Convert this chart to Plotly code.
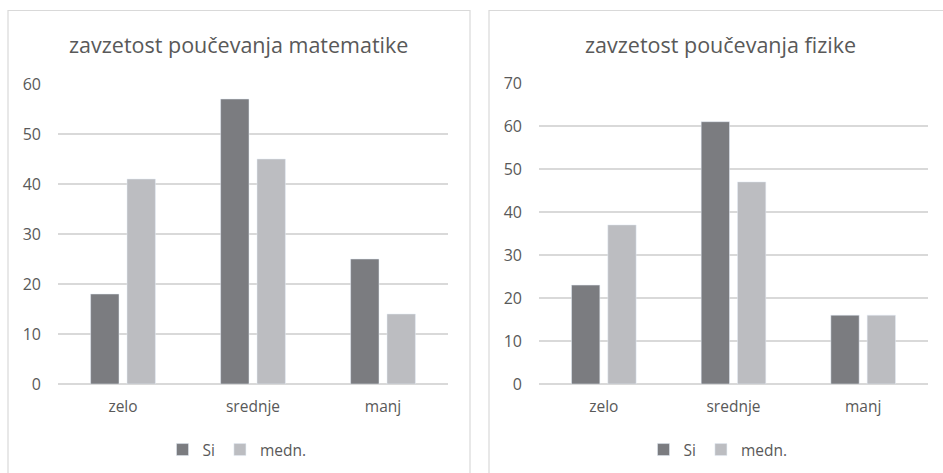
import plotly.graph_objects as go

categories = ["zelo", "srednje", "manj"]

mat_si = [18, 57, 25]
mat_medn = [41, 45, 14]

fiz_si = [23, 61, 16]
fiz_medn = [37, 47, 16]

series_names = ["Si", "medn."]
titles = ["zavzetost poučevanja matematike", "zavzetost poučevanja fizike"]

W, H = 943, 473
DARK = "#7b7c80"
LIGHT = "#bcbdc1"
TEXT = "#595959"
GRID = "#d9d9d9"
FONT = "Open Sans, Lato, sans-serif"


def px_x(v):
    return v / W


def px_y(v):
    return 1 - v / H


fig = go.Figure()

# matematika (levo)
fig.add_trace(go.Bar(x=categories, y=mat_si, name=series_names[0], marker_color=DARK,
                     xaxis="x", yaxis="y", legend="legend"))
fig.add_trace(go.Bar(x=categories, y=mat_medn, name=series_names[1], marker_color=LIGHT,
                     xaxis="x", yaxis="y", legend="legend"))

# fizika (desno)
fig.add_trace(go.Bar(x=categories, y=fiz_si, name=series_names[0], marker_color=DARK,
                     xaxis="x2", yaxis="y2", legend="legend2"))
fig.add_trace(go.Bar(x=categories, y=fiz_medn, name=series_names[1], marker_color=LIGHT,
                     xaxis="x2", yaxis="y2", legend="legend2"))

xaxis_style = dict(showgrid=False, showline=False, zeroline=False, ticks="",
                   tickfont=dict(size=15.5, color=TEXT), ticklabelstandoff=11, automargin=False)
yaxis_style = dict(showgrid=True, gridcolor=GRID, gridwidth=1.6, zeroline=True,
                   zerolinecolor=GRID, zerolinewidth=1.6, showline=False, ticks="",
                   dtick=10, tickfont=dict(size=16, color=TEXT), ticklabelstandoff=16,
                   automargin=False)
legend_style = dict(orientation="h", xanchor="center", yanchor="middle",
                    font=dict(size=15.5, color=TEXT), itemwidth=30, traceorder="normal")

fig.update_layout(
    width=W, height=H,
    margin=dict(l=0, r=0, t=0, b=0, autoexpand=False),
    paper_bgcolor="white", plot_bgcolor="white",
    font=dict(family=FONT, color=TEXT),
    barmode="group", bargap=0.44, bargroupgap=0.22,
    xaxis=dict(domain=[px_x(58), px_x(448)], anchor="y", **xaxis_style),
    yaxis=dict(domain=[px_y(384), px_y(84)], anchor="x", range=[0, 60], **yaxis_style),
    xaxis2=dict(domain=[px_x(539), px_x(928)], anchor="y2", **xaxis_style),
    yaxis2=dict(domain=[px_y(384), px_y(83)], anchor="x2", range=[0, 70], **yaxis_style),
    legend=dict(x=px_x(237), y=px_y(450), **legend_style),
    legend2=dict(x=px_x(718), y=px_y(450), **legend_style),
    showlegend=True,
)

# okvirja grafov
for x0, x1 in [(8, 470), (489, 951)]:
    fig.add_shape(type="rect", xref="paper", yref="paper",
                  x0=px_x(x0), x1=px_x(x1), y0=px_y(500), y1=px_y(10.5),
                  line=dict(color=GRID, width=1.2), fillcolor="rgba(0,0,0,0)", layer="below")

# naslovi
for title, cx in zip(titles, [238, 720]):
    fig.add_annotation(text=title, xref="paper", yref="paper", x=px_x(cx), y=px_y(45),
                       xanchor="center", yanchor="middle", showarrow=False,
                       font=dict(size=21.5, color=TEXT))

fig.write_html("out.html", config={"displayModeBar": False},
               post_script="document.body.style.margin='0';")
